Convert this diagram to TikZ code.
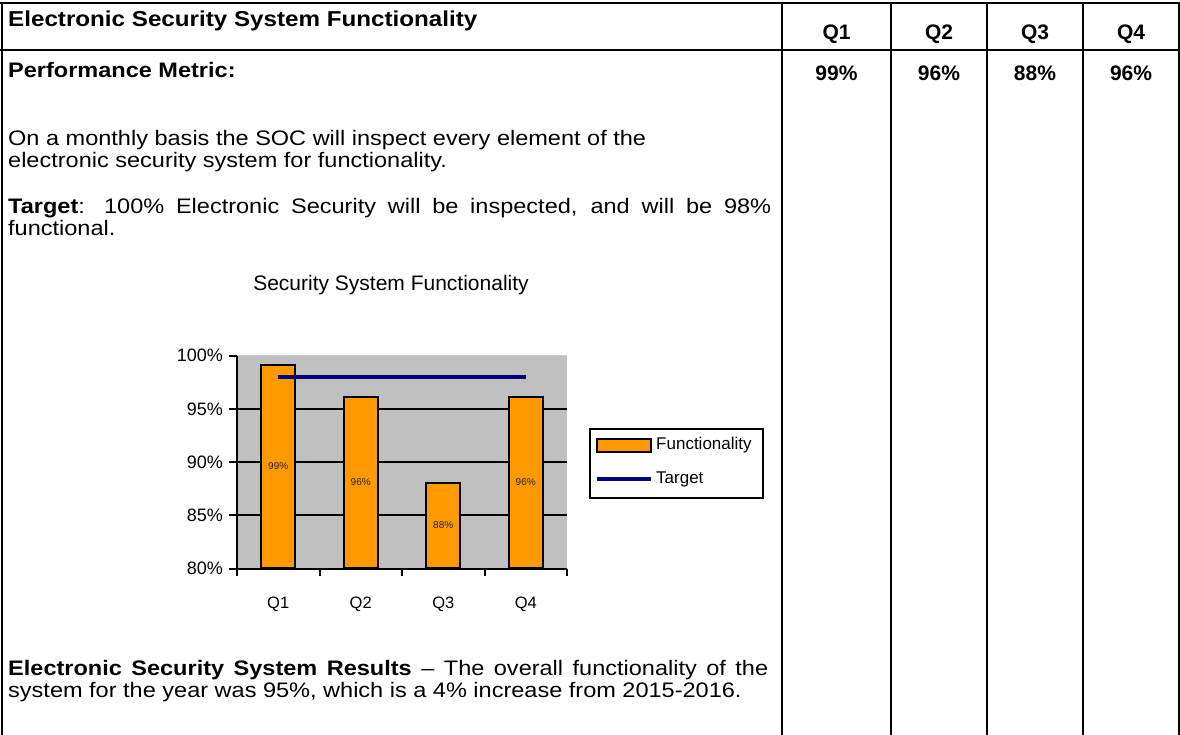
\documentclass[tikz,border=0pt]{standalone}
\usepackage{fontspec}
\setmainfont{Liberation Sans}
\newfontfamily\bodyfont[FakeStretch=1.12]{Liberation Sans}
\definecolor{barorange}{HTML}{FF9900}
\definecolor{navyline}{HTML}{000080}
\definecolor{plotgray}{HTML}{C0C0C0}
\begin{document}
\begin{tikzpicture}[x=1pt,y=-1pt,
  tbl/.style={line width=2pt,black},
  body/.style={font=\bodyfont\fontsize{21}{21}\selectfont,inner sep=0pt},
  bodyb/.style={font=\bodyfont\fontsize{21}{21}\selectfont\bfseries,inner sep=0pt},
  qcol/.style={font=\fontsize{21}{21}\selectfont\bfseries,inner sep=0pt},
  axislbl/.style={font=\fontsize{18}{18}\selectfont,inner sep=0pt},
  catlbl/.style={font=\fontsize{16.5}{18}\selectfont,inner sep=0pt},
  leglbl/.style={font=\fontsize{17}{18}\selectfont,inner sep=0pt},
  datalbl/.style={font=\fontsize{10}{12}\selectfont,inner sep=0pt,text=black!85},
  bar/.style={fill=barorange,draw=black,line width=2pt},
  grid/.style={line width=2pt,black},
  tgt/.style={line width=4.5pt,navyline}]
\useasboundingbox (0,0) rectangle (1180,735);
% ---------- table ----------
\draw[tbl] (0,3) -- (1180,3);
\draw[tbl] (0,50) -- (1180,50);
\draw[tbl] (1.5,2) -- (1.5,735);
\draw[tbl] (1178.5,2) -- (1178.5,735);
\foreach \x in {782,891,987,1083} \draw[tbl] (\x,2) -- (\x,735);
% header texts
\node[bodyb,font=\bodyfont\fontsize{21.6}{21}\selectfont\bfseries,anchor=base west] (title) at (8,27) {Electronic Security System Functionality};
\node[qcol,anchor=base] (hq1) at (836.5,40) {Q1};
\node[qcol,anchor=base] (hq2) at (939,40) {Q2};
\node[qcol,anchor=base] (hq3) at (1035,40) {Q3};
\node[qcol,anchor=base] (hq4) at (1131,40) {Q4};
\node[bodyb,anchor=base west] (pm) at (8,78) {Performance Metric:};
\node[qcol,anchor=base] (v1) at (836.5,81) {99\%};
\node[qcol,anchor=base] (v2) at (939,81) {96\%};
\node[qcol,anchor=base] (v3) at (1035,81) {88\%};
\node[qcol,anchor=base] (v4) at (1131,81) {96\%};
% body text
\node[body,anchor=base west] (l1) at (8,146) {On a monthly basis the SOC will inspect every element of the};
\node[body,anchor=base west] (l2) at (8,168) {electronic security system for functionality.};
\node[body,anchor=base west] (l3) at (8,214) {\makebox[763pt][s]{\textbf{Target}: 100\% Electronic Security will be inspected, and will be 98\%}};
\node[body,anchor=base west] (l4) at (8,236) {functional.};
\node[body,anchor=base west] (l5) at (8,675) {\makebox[760pt][s]{\textbf{Electronic Security System Results} – The overall functionality of the}};
\node[body,anchor=base west] (l6) at (8,697) {system for the year was 95\%, which is a 4\% increase from 2015-2016.};
% ---------- chart ----------
\node[font=\fontsize{21}{21}\selectfont,inner sep=0pt] (ctitle) at (391,285) {Security System Functionality};
\fill[plotgray] (237,355.7) rectangle (567,568.7);
\draw[gray!40,line width=1pt] (237,355.2) -- (567,355.2);
\foreach \yy in {408.95,462.2,515.45} \draw[grid] (237,\yy) -- (567,\yy);
% bars
\node[bar,minimum width=34pt,minimum height=202.35pt,inner sep=0pt,anchor=south] (b1) at (278.25,568.7) {};
\node[bar,minimum width=34pt,minimum height=170.4pt,inner sep=0pt,anchor=south] (b2) at (360.75,568.7) {};
\node[bar,minimum width=34pt,minimum height=85.2pt,inner sep=0pt,anchor=south] (b3) at (443.25,568.7) {};
\node[bar,minimum width=34pt,minimum height=170.4pt,inner sep=0pt,anchor=south] (b4) at (525.75,568.7) {};
\node[datalbl] (d1) at (b1.center) {99\%};
\node[datalbl] (d2) at (b2.center) {96\%};
\node[datalbl] (d3) at (b3.center) {88\%};
\node[datalbl] (d4) at (b4.center) {96\%};
% target line
\coordinate (t1) at (278.25,377);
\coordinate (t2) at (525.75,377);
\draw[tgt] (t1) -- (t2);
% axes
\draw[grid] (237,355.7) -- (237,568.7) -- (567,568.7);
\foreach \yy in {355.7,408.95,462.2,515.45,568.7} \draw[grid] (229,\yy) -- (237,\yy);
\foreach \xx in {237,319.5,402,484.5,567} \draw[grid] (\xx,568.7) -- (\xx,576);
\node[axislbl,anchor=east] (y100) at (223,355.7) {100\%};
\node[axislbl,anchor=east] (y95) at (223,408.95) {95\%};
\node[axislbl,anchor=east] (y90) at (223,462.2) {90\%};
\node[axislbl,anchor=east] (y85) at (223,515.45) {85\%};
\node[axislbl,anchor=east] (y80) at (223,568.7) {80\%};
\node[catlbl] (xq1) at (278.25,604) {Q1};
\node[catlbl] (xq2) at (360.75,604) {Q2};
\node[catlbl] (xq3) at (443.25,604) {Q3};
\node[catlbl] (xq4) at (525.75,604) {Q4};
% legend
\node[draw=black,line width=2pt,fill=white,minimum width=173pt,minimum height=69pt,inner sep=0pt,anchor=north west] (legend) at (589,428) {};
\node[bar,minimum width=54pt,minimum height=13pt,inner sep=0pt] (sw) at (624,445.5) {};
\node[leglbl,anchor=west] (lf) at (656,445.5) {Functionality};
\coordinate (lt1) at (597,479);
\coordinate (lt2) at (651,479);
\draw[tgt,line width=4pt] (lt1) -- (lt2);
\node[leglbl,anchor=west] (lt) at (656,479) {Target};
\end{tikzpicture}
\end{document}
